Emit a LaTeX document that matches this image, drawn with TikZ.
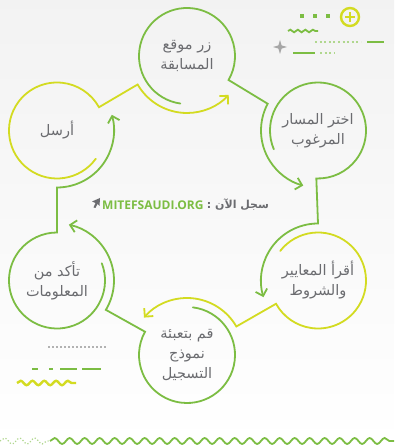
\documentclass[tikz,border=0pt]{standalone}
\usepackage{fontspec}
\usetikzlibrary{calc,arrows.meta,decorations.pathmorphing}
\TeXXeTstate=1
\newfontfamily\arabicfont[Script=Arabic]{DejaVu Sans}
\newfontfamily\sitefont{Open Sans}
\definecolor{verde}{HTML}{7CBD43}
\definecolor{lima}{HTML}{D3DB21}
\definecolor{texto}{HTML}{6B6C70}
\newcommand{\artxt}[1]{\beginR #1\endR}

\begin{document}
\begin{tikzpicture}[x=1pt,y=1pt,
  >={Straight Barb[length=6pt,width=12pt]},
  paso/.style={circle,minimum size=96pt,inner sep=0pt,align=center,text=texto,
    font=\arabicfont\fontsize{14.5}{20}\selectfont},
  trazo/.style={line width=1.8pt,line cap=round},
  onda/.style={decorate,decoration={snake,segment length=#1,amplitude=3pt}}]
                \useasboundingbox (0,0) rectangle (394,446);
                \shade[top color=black!5,bottom color=white] (0,0) rectangle (394,446); % fondo
                \node[paso] (visit) at (187,390) {\artxt{زر موقع}\\\artxt{المسابقة}};
                \node[paso] (choose) at (318,315.5) {\artxt{اختر المسار}\\\artxt{المرغوب}};
                \node[paso] (read) at (318,165.5) {\artxt{أقرأ المعايير}\\\artxt{والشروط}};
                \node[paso] (fill) at (187,91) {\artxt{قم بتعبئة}\\\artxt{نموذج}\\\artxt{التسجيل}};
                \node[paso] (check) at (57,165.5) {\artxt{تأكد من}\\\artxt{المعلومات}};
                \node[paso] (submit) at (57,315.5) {\artxt{أرسل}};
                % circulos, colas y flechas
                \foreach \a/\b/\sa/\ea/\so/\eo/\col in {visit/choose/262/-30/152/255/verde,
                  choose/read/203/-92/90/197/verde, read/fill/142/-151/30/139/lima,
                  fill/check/83/-209/-31/78/verde, check/submit/21/-270/-90/16/verde,
                  submit/visit/-36/-331/210/317/lima}
                \draw[trazo,draw=\col,->] ($(\a)+(\sa:48pt)$) arc[start angle=\sa,end angle=\ea,radius=48pt]
                  -- ($(\b)+(\so:57pt)$) arc[start angle=\so,end angle=\eo,radius=57pt];
                % enlace
                \node[anchor=west,inner sep=1pt,text=verde,font=\sitefont\bfseries\fontsize{12}{14}\selectfont] (url) at (101,241) {MITEFSAUDI.ORG};
                \node[anchor=west,inner sep=2pt,text=texto,font=\arabicfont\bfseries\fontsize{11}{13}\selectfont] (now) at (url.east) {\artxt{سجل الآن :}};
                \fill[texto] (100,248) -- (92,244.5) -- (95.5,243) -- (93.5,238.5) -- (95.5,238) -- (97.5,242) -- (99.5,240) -- cycle;
                % adornos arriba
                \draw[lima,line width=2.4pt] (350,429) circle [radius=9];
                \draw[lima,line width=2.6pt] (345,429) -- (355,429) (350,424) -- (350,434);
                \foreach \x in {302,315,328}
                \fill[verde] (\x-1.8,428.2) rectangle (\x+1.8,431.8);
                \draw[verde,line width=1.8pt,decorate,decoration={snake,segment length=7.5pt,amplitude=1.3pt}] (288,415) -- (318,415);
                \fill[black!35] (280,406) -- (281.6,400.6) -- (287,399) -- (281.6,397.4) -- (280,392) -- (278.4,397.4) -- (273,399) -- (278.4,400.6) -- cycle;
                \draw[verde!60,line width=2pt,dash pattern=on 2pt off 2.6pt] (315,404) -- (361,404);
                \draw[verde,line width=2.6pt] (367,404) -- (384,404);
                \draw[verde,line width=2.6pt] (293,393) -- (315,393);
                \draw[verde!60,line width=2pt,dash pattern=on 2pt off 2.6pt] (320,393) -- (334,393);
                % adornos abajo
                \draw[black!30,line width=1.4pt,dash pattern=on 1.6pt off 2.4pt] (48,99) -- (106,99);
                \draw[verde,line width=2.2pt] (32,77) -- (38,77) (49,77) -- (53,77) (60,77) -- (77,77) (82,77) -- (101,77);
                \draw[lima,line width=2.4pt,decorate,decoration={snake,segment length=11.8pt,amplitude=2.2pt}] (17,63) -- (76,63);
                \draw[verde!60,line width=1.2pt,dotted,onda=15pt] (0,5) -- (50,5);
                \draw[verde,line width=1.8pt,onda=15pt] (50,5) -- (394,5);
\end{tikzpicture}
\end{document}
